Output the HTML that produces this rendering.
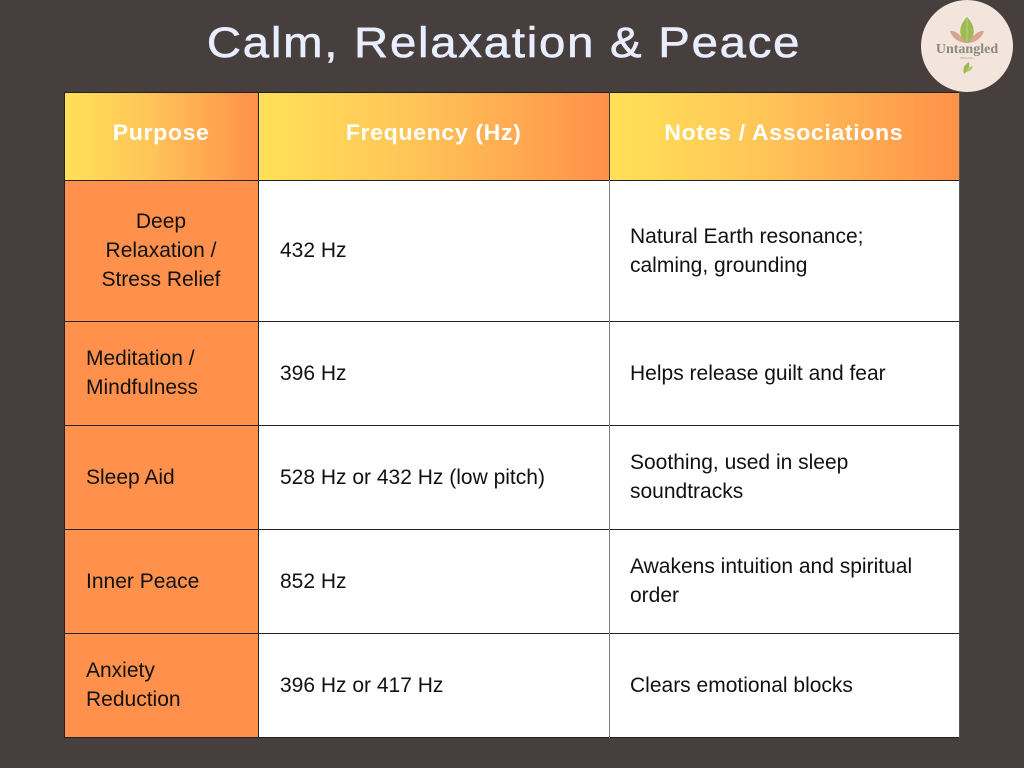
<!DOCTYPE html>
<html>
<head>
<meta charset="utf-8">
<style>
  html,body{margin:0;padding:0;}
  body{width:1024px;height:768px;background:#473F3E;position:relative;overflow:hidden;font-family:"Liberation Sans",Arial,sans-serif;}
  .abs{position:absolute;}
  .title{position:absolute;left:0;width:1008px;top:22px;text-align:center;font-size:43px;line-height:43px;color:#E9EEFF;letter-spacing:1.6px;white-space:nowrap;transform:scaleX(1.1);transform-origin:504px 0;-webkit-text-stroke:0.6px #E9EEFF;}
  .hd{position:absolute;top:92px;height:88px;background:linear-gradient(90deg,#FFE157 0%,#FFC458 45%,#FF9149 100%);display:flex;align-items:center;justify-content:center;color:#fff;font-weight:bold;font-size:22px;letter-spacing:0.6px;box-sizing:border-box;padding-bottom:7px;white-space:nowrap;}
  .hd span{display:inline-block;transform:scaleX(1.05);}
  .c1{position:absolute;left:64px;width:194px;background:#FF914D;display:flex;align-items:center;box-sizing:border-box;padding-left:22px;font-size:21px;line-height:29px;color:#111;}
  .cw{position:absolute;background:#fff;display:flex;align-items:center;box-sizing:border-box;font-size:21px;line-height:29px;color:#111;white-space:nowrap;}
  .c2{left:258px;width:351px;padding-left:22px;}
  .c3{left:609px;width:350px;padding-left:21px;}
  .hl{position:absolute;left:64px;width:895px;height:1px;background:#222;}
  .vl{position:absolute;width:1px;}
</style>
</head>
<body>

<div class="title">Calm, Relaxation &amp; Peace</div>

<!-- logo -->
<svg class="abs" style="left:918px;top:0px" width="100" height="94" viewBox="0 0 100 94">
  <circle cx="49" cy="46" r="46" fill="#F4E5DC"/>
  <!-- side pink leaves -->
  <path d="M49 43 C42 33 35 30 32 31 C34 38 41 43 49 43 Z" fill="#D9A48E"/>
  <path d="M49 43 C56 33 63 30 66 31 C64 38 57 43 49 43 Z" fill="#D9A48E"/>
  <!-- green top leaf -->
  <path d="M49 17 C40 26 40 37 49 43 C58 37 58 26 49 17 Z" fill="#9DBB55"/>
  <path d="M49 19 L49 42" stroke="#C3D88A" stroke-width="0.8"/>
  <text x="49" y="53" text-anchor="middle" font-family="Liberation Serif, serif" font-size="14" fill="#8A8A7C" font-weight="bold">Untangled</text>
  <text x="49" y="59" text-anchor="middle" font-family="Liberation Serif, serif" font-size="3" fill="#9A9A8C">HEALING</text>
  <!-- bottom leaves -->
  <path d="M46 74 C44 68 47 64 51 62 C52 67 50 71 46 74 Z" fill="#9DBB55"/>
  <path d="M48 72 C50 67 53 66 55 66 C54 70 51 72 48 72 Z" fill="#B4C96A"/>
</svg>

<!-- header -->
<div class="hd" style="left:64px;width:194px;"><span>Purpose</span></div>
<div class="hd" style="left:258px;width:351px;"><span>Frequency (Hz)</span></div>
<div class="hd" style="left:609px;width:350px;"><span>Notes / Associations</span></div>

<!-- row 1 -->
<div class="c1" style="top:180px;height:141px;justify-content:center;padding-left:0;text-align:center;">Deep<br>Relaxation /<br>Stress Relief</div>
<div class="cw c2" style="top:180px;height:141px;">432 Hz</div>
<div class="cw c3" style="top:180px;height:141px;">Natural Earth resonance;<br>calming, grounding</div>

<!-- row 2 -->
<div class="c1" style="top:321px;height:104px;">Meditation /<br>Mindfulness</div>
<div class="cw c2" style="top:321px;height:104px;">396 Hz</div>
<div class="cw c3" style="top:321px;height:104px;">Helps release guilt and fear</div>

<!-- row 3 -->
<div class="c1" style="top:425px;height:104px;">Sleep Aid</div>
<div class="cw c2" style="top:425px;height:104px;">528 Hz or 432 Hz (low pitch)</div>
<div class="cw c3" style="top:425px;height:104px;">Soothing, used in sleep<br>soundtracks</div>

<!-- row 4 -->
<div class="c1" style="top:529px;height:104px;">Inner Peace</div>
<div class="cw c2" style="top:529px;height:104px;">852 Hz</div>
<div class="cw c3" style="top:529px;height:104px;">Awakens intuition and spiritual<br>order</div>

<!-- row 5 -->
<div class="c1" style="top:633px;height:104px;">Anxiety<br>Reduction</div>
<div class="cw c2" style="top:633px;height:104px;">396 Hz or 417 Hz</div>
<div class="cw c3" style="top:633px;height:104px;">Clears emotional blocks</div>

<!-- grid lines -->
<div class="hl" style="top:92px;"></div>
<div class="hl" style="top:180px;"></div>
<div class="hl" style="top:321px;"></div>
<div class="hl" style="top:425px;"></div>
<div class="hl" style="top:529px;"></div>
<div class="hl" style="top:633px;"></div>
<div class="hl" style="top:737px;"></div>

<div class="vl" style="left:64px;top:92px;height:646px;background:#222;"></div>
<div class="vl" style="left:258px;top:92px;height:646px;background:#222;"></div>
<div class="vl" style="left:609px;top:92px;height:88px;background:#333;"></div>
<div class="vl" style="left:609px;top:180px;height:558px;background:#7E7E7E;"></div>
<div class="vl" style="left:959px;top:92px;height:646px;background:#555;"></div>

</body>
</html>
